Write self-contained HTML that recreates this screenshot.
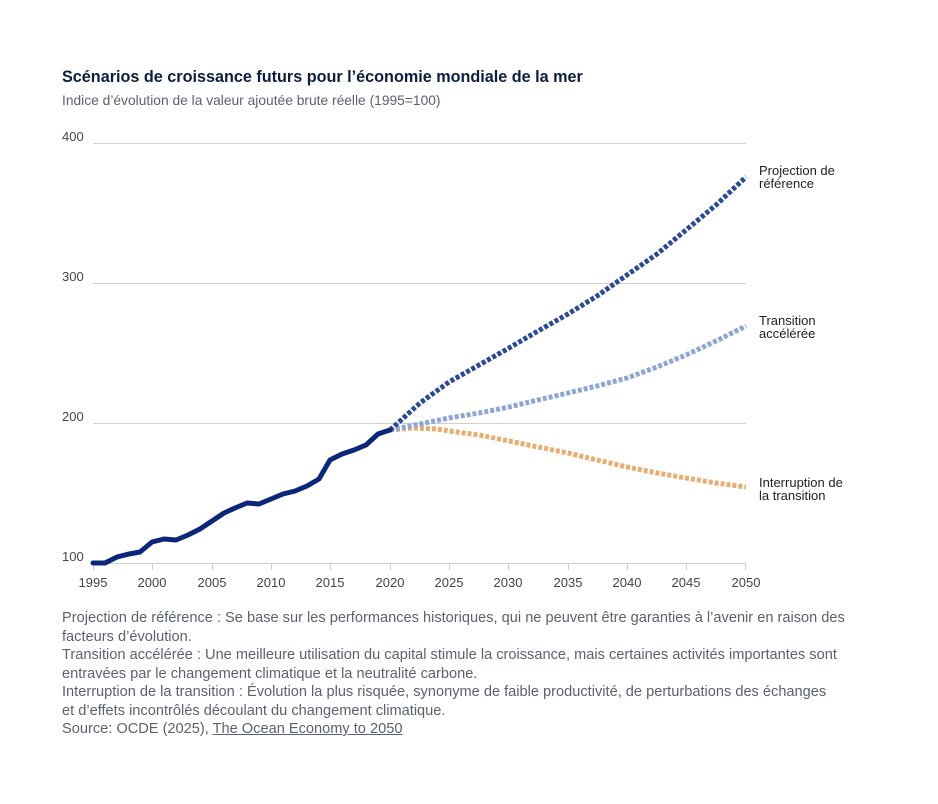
<!DOCTYPE html>
<html><head><meta charset="utf-8"><style>
body{margin:0;background:#fff;font-family:"Liberation Sans",sans-serif;}
.wrap{position:relative;width:938px;height:804px;}
.t{position:absolute;left:62px;top:68px;font-size:16.2px;font-weight:bold;color:#0b1e3f;white-space:nowrap;}
.s{position:absolute;left:62px;top:93px;font-size:13.8px;color:#5a6170;white-space:nowrap;}
.n{position:absolute;left:62px;top:609px;width:860px;font-size:14.6px;line-height:18.5px;color:#5a6170;white-space:nowrap;}
</style></head><body><div class="wrap">
<div class="t">Scénarios de croissance futurs pour l’économie mondiale de la mer</div>
<div class="s">Indice d’évolution de la valeur ajoutée brute réelle (1995=100)</div>
<svg width="938" height="804" style="position:absolute;left:0;top:0" font-family="Liberation Sans, sans-serif">
<g stroke="#cfcfcf" stroke-width="1">
<line x1="93" y1="143.5" x2="746" y2="143.5"/><line x1="93" y1="283.5" x2="746" y2="283.5"/><line x1="93" y1="423.5" x2="746" y2="423.5"/><line x1="93" y1="563.5" x2="746" y2="563.5"/>
<line x1="93.5" y1="564" x2="93.5" y2="570"/><line x1="152.5" y1="564" x2="152.5" y2="570"/><line x1="212.5" y1="564" x2="212.5" y2="570"/><line x1="271.5" y1="564" x2="271.5" y2="570"/><line x1="330.5" y1="564" x2="330.5" y2="570"/><line x1="390.5" y1="564" x2="390.5" y2="570"/><line x1="449.5" y1="564" x2="449.5" y2="570"/><line x1="508.5" y1="564" x2="508.5" y2="570"/><line x1="568.5" y1="564" x2="568.5" y2="570"/><line x1="627.5" y1="564" x2="627.5" y2="570"/><line x1="686.5" y1="564" x2="686.5" y2="570"/><line x1="745.5" y1="564" x2="745.5" y2="570"/>
</g>
<g font-size="13" fill="#444">
<text x="62" y="141">400</text><text x="62" y="281">300</text><text x="62" y="421">200</text><text x="62" y="561">100</text>
<g text-anchor="middle"><text x="93" y="587">1995</text><text x="152" y="587">2000</text><text x="212" y="587">2005</text><text x="271" y="587">2010</text><text x="330" y="587">2015</text><text x="390" y="587">2020</text><text x="449" y="587">2025</text><text x="508" y="587">2030</text><text x="568" y="587">2035</text><text x="627" y="587">2040</text><text x="686" y="587">2045</text><text x="746" y="587">2050</text></g>
</g>
<g fill="none" stroke-width="5" stroke-dasharray="4 2">
<polyline stroke="#e8ad73" points="390,430 413,428 437,429 449,431 479,435 509,441 538,447 568,453 597,460 627,467 657,473 686,478 716,483 746,487"/>
<polyline stroke="#8fa6d4" points="390,430 420,424 449,418 479,413 509,407 538,400 568,393 597,386 627,378 657,367 686,355 716,341 746,326"/>
<polyline stroke="#2c4a94" points="390,430 420,403 449,382 479,365 509,348 538,331 568,314 597,296 627,275 657,254 686,230 716,205 746,177"/>
</g>
<polyline fill="none" stroke="#0b267a" stroke-width="5" stroke-linejoin="round" stroke-linecap="round" points="93,563 105,563 117,557 129,554 140,552 152,542 164,539 176,540 188,535 200,529 212,521 224,513 235,508 247,503 259,504 271,499 283,494 295,491 307,486 319,479 330,460 342,454 354,450 366,445 378,434 390,430"/>
<g font-size="13" fill="#222">
<text x="759" y="175">Projection de</text><text x="759" y="188">référence</text>
<text x="759" y="325">Transition</text><text x="759" y="338">accélérée</text>
<text x="759" y="487">Interruption de</text><text x="759" y="500">la transition</text>
</g>
</svg>
<div class="n">Projection de référence : Se base sur les performances historiques, qui ne peuvent être garanties à l’avenir en raison des<br>facteurs d’évolution.<br>Transition accélérée : Une meilleure utilisation du capital stimule la croissance, mais certaines activités importantes sont<br>entravées par le changement climatique et la neutralité carbone.<br>Interruption de la transition : Évolution la plus risquée, synonyme de faible productivité, de perturbations des échanges<br>et d’effets incontrôlés découlant du changement climatique.<br>Source: OCDE (2025), <u>The Ocean Economy to 2050</u></div>
</div></body></html>
